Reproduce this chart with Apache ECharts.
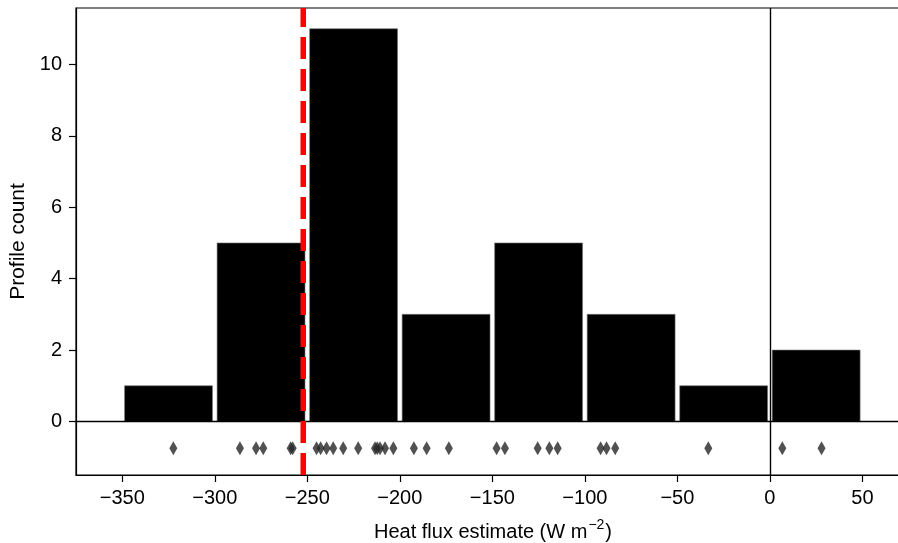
<!DOCTYPE html>
<html>
<head>
<meta charset="utf-8">
<script src="https://cdn.jsdelivr.net/npm/echarts@6/dist/echarts.min.js"></script>
<style>
html,body{margin:0;padding:0;background:#fff;}
#chart{width:898px;height:543px;}
</style>
</head>
<body>
<div id="chart"></div>
<script>
// ---- data ----
const binEdges = [-350, -300, -250, -200, -150, -100, -50, 0, 50];
const counts = [1, 5, 11, 3, 5, 3, 1, 2];
const fluxValues = [
  -322.4, -286.4, -277.7, -273.8, -259.0, -257.9,
  -245.0, -242.8, -239.6, -236.0, -230.6, -222.5, -213.4, -212.2, -210.7, -208.0, -203.5,
  -192.4, -185.5, -173.5,
  -147.7, -143.2, -125.5, -119.2, -114.7,
  -91.5, -88.3, -83.6,
  -33.3,
  6.7, 27.9
];
const stripY = -0.75;
const refLineX = -252.2;
const xTicks = [-350, -300, -250, -200, -150, -100, -50, 0, 50];
const yTicks = [0, 2, 4, 6, 8, 10];
const xMin = -375, xMax = 70.3, yMin = -1.5, yMax = 11.58;
const rwidth = 0.95;

// ---- build ----
const barData = counts.map((c, i) => [binEdges[i], binEdges[i + 1], c]);
const stripData = fluxValues.map(v => [v, stripY]);
const refLineData = [[refLineX, yMin], [refLineX, yMax]];
const FONT = "'Liberation Sans', Arial, Helvetica, sans-serif";
const FS = 20;
const fmt = v => (v < 0 ? '\u2212' + Math.abs(v) : String(v));

const chart = echarts.init(document.getElementById('chart'), null, {renderer: 'canvas'});
chart.setOption({
  animation: false,
  backgroundColor: '#fff',
  grid: {left: 76, top: 8, width: 824, height: 467, containLabel: false, outerBoundsMode: 'none',
         show: true, borderColor: '#000', borderWidth: 1.2, backgroundColor: 'transparent'},
  xAxis: {
    type: 'value', min: xMin, max: xMax,
    splitLine: {show: false},
    axisLine: {show: true, onZero: false, lineStyle: {color: '#000', width: 1.2}},
    axisTick: {show: true, inside: false, length: 7, lineStyle: {color: '#000', width: 1.2}, customValues: xTicks},
    axisLabel: {customValues: xTicks, formatter: fmt, color: '#000', fontSize: FS, fontFamily: FONT, margin: 13},
    name: '{n|Heat flux estimate (W m}{s|\u22122}{n|)}',
    nameLocation: 'middle', nameGap: 43,
    nameTextStyle: {
      color: '#000', fontFamily: FONT, padding: [0, 0, 0, 10],
      rich: {
        n: {fontSize: FS, fontFamily: FONT, color: '#000', verticalAlign: 'bottom', lineHeight: 24},
        s: {fontSize: 14, fontFamily: FONT, color: '#000', verticalAlign: 'top', lineHeight: 24, padding: [0, 1, 9, 1]}
      }
    }
  },
  yAxis: {
    type: 'value', min: yMin, max: yMax,
    splitLine: {show: false},
    axisLine: {show: true, onZero: false, lineStyle: {color: '#000', width: 1.2}},
    axisTick: {show: true, inside: false, length: 7, lineStyle: {color: '#000', width: 1.2}, customValues: yTicks},
    axisLabel: {customValues: yTicks, color: '#000', fontSize: FS, fontFamily: FONT, margin: 14},
    name: 'Profile count', nameLocation: 'middle', nameGap: 44,
    nameTextStyle: {color: '#000', fontSize: 21, fontFamily: FONT}
  },
  series: [
    {
      type: 'custom',
      data: barData,
      encode: {x: [0, 1], y: 2},
      z: 2,
      renderItem: function (params, api) {
        const a = api.value(0), b = api.value(1), c = api.value(2);
        const w = (b - a) * rwidth;
        const left = a + (b - a - w) / 2;
        const p1 = api.coord([left, c]);
        const p2 = api.coord([left + w, 0]);
        return {
          type: 'rect',
          shape: {x: p1[0], y: p1[1], width: p2[0] - p1[0], height: p2[1] - p1[1]},
          style: {fill: '#000', stroke: '#777', lineWidth: 0.6}
        };
      }
    },
    {
      type: 'scatter',
      data: stripData,
      symbol: 'diamond',
      symbolSize: [8, 14],
      itemStyle: {color: '#262626'},
      z: 3,
      markLine: {
        silent: true, symbol: 'none', label: {show: false},
        lineStyle: {color: '#000', width: 1.4, type: 'solid'},
        data: [{yAxis: 0}, {xAxis: 0}]
      }
    },
    {
      type: 'line',
      data: refLineData,
      z: 5,
      showSymbol: false,
      symbol: 'none',
      silent: true,
      lineStyle: {color: '#ff0000', width: 5.5, type: [22, 10]}
    }
  ]
});
</script>
</body>
</html>
